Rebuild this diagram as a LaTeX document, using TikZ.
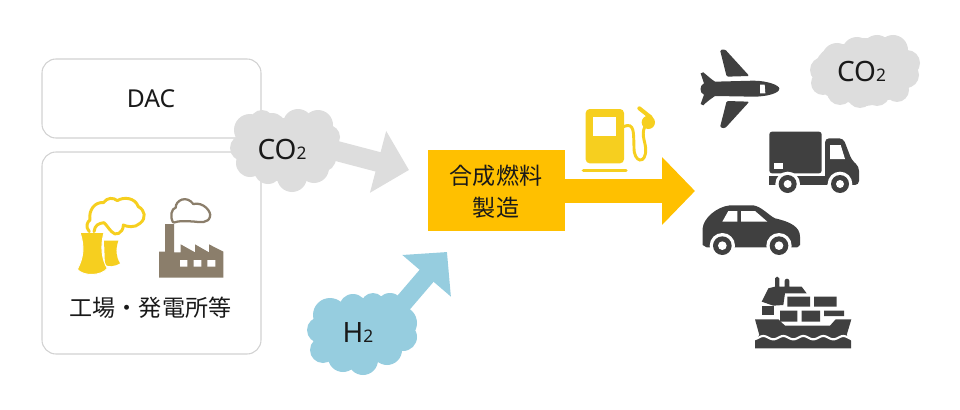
\documentclass[tikz,border=0pt]{standalone}
\usepackage{fontspec}
\setmainfont{Noto Sans}
\newfontfamily\jp{Noto Sans CJK JP}
\usetikzlibrary{arrows.meta}
\definecolor{boxline}{HTML}{D2D2D2}
\definecolor{smoke}{HTML}{DDDDDD}
\definecolor{hydro}{HTML}{96CDDF}
\definecolor{plant}{HTML}{FFC000}
\definecolor{fuelicon}{HTML}{F6CF1F}
\definecolor{factory}{HTML}{8B7E6B}
\definecolor{vehicle}{HTML}{404040}
\newcommand\puff[2]{\fill[#1] \foreach \cx/\cy/\cr in {#2} {(\cx,\cy) circle (\cr)};}
\newcommand\subtwo{{\fontsize{13pt}{14pt}\selectfont 2}}
\tikzset{
  source/.style={draw=boxline,line width=0.8pt,rounded corners=10.5pt,fill=white},
  biglabel/.style={font=\fontsize{18.5pt}{22pt}\selectfont,text=black!90,inner sep=0pt},
  cloudlabel/.style={font=\fontsize{21pt}{24pt}\selectfont,text=black!90,inner sep=0pt},
  jplabel/.style={font=\jp\fontsize{17.3pt}{24pt}\selectfont,text=black!90,inner sep=0pt,align=center},
  icon/.style={x=0.25pt,y=-0.25pt}
}
\begin{document}
\begin{tikzpicture}[x=0.75pt,y=-0.75pt]
\useasboundingbox (0,0) rectangle (960,410);
% source boxes
\node[source,minimum width=164.25pt,minimum height=59.25pt,inner sep=0pt] (dac) at (151.5,98.5) {};
\node[source,minimum width=164.25pt,minimum height=151.5pt,inner sep=0pt] (works) at (151.5,253) {};
\node[biglabel] (daclabel) at (151,98.5) {DAC};
\node[jplabel] (workslabel) at (150.5,307.5) {工場・発電所等};

% cooling towers with steam
\begin{scope}[shift={(30,50)},icon]
  \fill[fuelicon] (222,572) -- (265,572) .. controls (256,600) and (258,620) .. (270,640)
    .. controls (255,650) and (235,650) .. (225,645) -- cycle;
  \draw[white,fill=fuelicon,line width=0.7pt] (150,547) -- (222,547) .. controls (210,590) and (216,630) .. (232,655)
    .. controls (215,678) and (160,680) .. (142,658) .. controls (160,625) and (165,590) .. (150,547) -- cycle;
  \draw[fuelicon,line width=2.2pt,line join=round,line cap=round]
    (178,545) .. controls (165,530) and (172,515) .. (180,510)
    .. controls (175,480) and (195,455) .. (220,458)
    .. controls (232,442) and (250,442) .. (262,452)
    .. controls (280,440) and (315,442) .. (325,470)
    .. controls (345,480) and (350,505) .. (330,520)
    .. controls (315,535) and (290,530) .. (280,525)
    .. controls (280,550) and (255,560) .. (245,545)
    .. controls (235,535) and (230,525) .. (222,518)
    .. controls (205,520) and (195,525) .. (192,545);
\end{scope}

% factory with smoke
\begin{scope}[shift={(30,50)},icon]
  \fill[factory] (387,683) -- (387,605) -- (405,605) -- (405,522) -- (432,522) -- (432,607)
    -- (452,607) -- (452,583) -- (495,607) -- (495,583) -- (537,607) -- (537,583) -- (580,605) -- (580,683) -- cycle;
  \fill[white] (450,630) rectangle (472,650) (491,630) rectangle (514,650) (532,630) rectangle (556,650);
  \draw[factory,line width=1.7pt,line join=round]
    (430,518) .. controls (418,500) and (425,475) .. (437,473)
    .. controls (437,450) and (470,435) .. (490,462)
    .. controls (520,455) and (545,485) .. (540,500)
    .. controls (535,520) and (510,517) .. (495,515)
    .. controls (470,513) and (445,512) .. (430,518);
\end{scope}

% flow arrows, running from behind the clouds
\coordinate (co2tip) at (409,170);
\coordinate (h2tip) at (447,252);
\coordinate (fueltip) at (695,191);
\coordinate (co2tail) at (310,144);
\coordinate (h2tail) at (375,336);
\draw[smoke,line width=15pt,-{Triangle[length=24pt,width=46.5pt]}] (co2tail) -- (co2tip);
\draw[hydro,line width=13.8pt,-{Triangle[length=23.5pt,width=46.5pt]}] (h2tail) -- (h2tip);

% hydrogen and carbon dioxide clouds
\puff{smoke}{285/150/32,265/150/26,305/150/27,243/148/13,250/130/16,262/122/12,272/127/14,298/124/15,318/125/15,
  328/137/12,328/150/12,250/163/14,268/170/14,292/177/15,314/168/15,322/158/14}
\node[cloudlabel] (co2left) at (282,149.5) {CO\subtwo};
\puff{hydro}{360/333/32,340/335/27,380/330/28,320/330/13,330/315/17,353/308/14,373/305/12,390/307/14,400/323/17,
  403/337/14,387/350/15,363/360/15,343/357/15,323/350/13}
\node[cloudlabel] (h2) at (358,333) {H\subtwo};
\puff{smoke}{864/72/34,842/72/28,886/72/28,823/70/13,837/58/15,857/52/15,877/50/15,893/50/15,907/63/13,906/75/13,
  897/90/12,877/93/13,860/95/13,840/92/13,823/83/12}
\node[cloudlabel] (co2right) at (861.5,71.5) {CO\subtwo};

% production block and its output arrow
\draw[plant,line width=18pt,-{Triangle[length=24.75pt,width=49.5pt]}] (496,191) -- (fueltip);
\node[fill=plant,minimum width=102.75pt,minimum height=60.75pt,inner sep=0pt] (prod) at (496.5,190.5) {};
\node[jplabel] (prodlabel) at (496,191.5) {合成燃料\\製造};

% fuel pump
\begin{scope}[shift={(420,90)},icon]
  \fill[fuelicon,rounded corners=3pt] (497,57) rectangle (612,220);
  \fill[white] (520,82) rectangle (588,137);
  \draw[fuelicon,line width=2.5pt,line cap=round] (490,242) -- (618,242);
  \draw[fuelicon,line width=2.2pt]
    (610,110) .. controls (645,95) and (640,130) .. (642,170)
    .. controls (640,220) and (680,225) .. (677,175)
    .. controls (675,150) and (660,130) .. (680,100);
  \fill[fuelicon] (685,97) circle (20);
  \draw[fuelicon,line width=3pt,line cap=round] (658,55) -- (692,82);
\end{scope}

% aeroplane
\begin{scope}[shift={(680,30)},icon]
  \fill[vehicle,rounded corners=1pt] (120,60) -- (135,58) -- (208,138) -- (140,140) -- cycle;
  \fill[vehicle,rounded corners=1pt] (120,292) -- (135,295) -- (208,215) -- (140,213) -- cycle;
  \fill[vehicle] (105,155) .. controls (90,145) and (80,135) .. (70,127) -- (62,130) -- (72,160)
    .. controls (58,165) and (58,190) .. (72,194) -- (62,222) -- (70,226)
    .. controls (80,215) and (95,205) .. (105,198) -- (220,200)
    .. controls (260,200) and (298,190) .. (298,176)
    .. controls (298,165) and (260,152) .. (220,152) -- cycle;
  \fill[white] (240,164) -- (254,164) -- (256,190) -- (240,190) -- cycle;
\end{scope}

% lorry
\begin{scope}[shift={(680,30)},icon]
  \fill[vehicle,rounded corners=2pt] (268,305) rectangle (425,430);
  \fill[white] (283,400) rectangle (308,417);
  \fill[vehicle,rounded corners=3pt] (435,325) -- (490,325) -- (515,390) -- (537,410) -- (537,465) -- (435,465) -- cycle;
  \fill[vehicle] (268,437) -- (440,437) -- (440,465) -- (268,465) -- cycle;
  \fill[white] (450,345) -- (482,345) -- (495,387) -- (450,387) -- cycle;
  \foreach \wx in {323,480} {
    \fill[white] (\wx,462) circle (37);
  }
  \fill[white] (268,466) rectangle (560,500);
  \foreach \wx in {323,480} {
    \fill[vehicle] (\wx,462) circle (27);
    \fill[white] (\wx,462) circle (12);
  }
\end{scope}

% car
\begin{scope}[shift={(690,190)},icon]
  \fill[vehicle] (38,165) -- (38,115) .. controls (40,85) and (80,50) .. (120,46)
    -- (190,46) .. controls (215,50) and (235,75) .. (255,85)
    .. controls (300,95) and (330,110) .. (330,140) -- (330,165) -- (322,172) -- (50,172) -- cycle;
  \fill[white] (97,95) -- (115,63) -- (142,63) -- (142,95) -- cycle;
  \fill[white] (153,63) -- (195,63) -- (232,95) -- (153,95) -- cycle;
  \foreach \wx in {97,267} {
    \fill[white] (\wx,167) circle (38);
    \fill[vehicle] (\wx,167) circle (28);
    \fill[white] (\wx,167) circle (13);
  }
\end{scope}

% container ship
\begin{scope}[shift={(690,190)},icon]
  \fill[vehicle] (255,290) -- (255,265) .. controls (257,258) and (266,258) .. (268,265) -- (268,290)
    -- (284,290) -- (284,272) .. controls (286,264) and (296,264) .. (298,272) -- (298,290)
    -- (335,290) -- (350,310) -- (285,310) -- (280,345) -- (250,347) -- (215,335) -- (235,295) -- cycle;
  \fill[vehicle] (215,347) rectangle (252,375);
  \fill[vehicle] (292,320) rectangle (360,350) (372,320) rectangle (440,350)
    (270,362) rectangle (322,395) (335,362) rectangle (390,395) (402,362) rectangle (462,378);
  \fill[vehicle] (195,388) -- (265,388) -- (285,407) -- (420,407) -- (437,388) -- (484,388)
    -- (470,435) -- (483,452) -- (483,475) -- (195,475) -- (195,452) -- (208,435) -- cycle;
  \draw[white,line width=1.6pt] plot[domain=195:484,samples=70] (\x,{443-5*cos(6*(\x-220))});
\end{scope}
\end{tikzpicture}
\end{document}
